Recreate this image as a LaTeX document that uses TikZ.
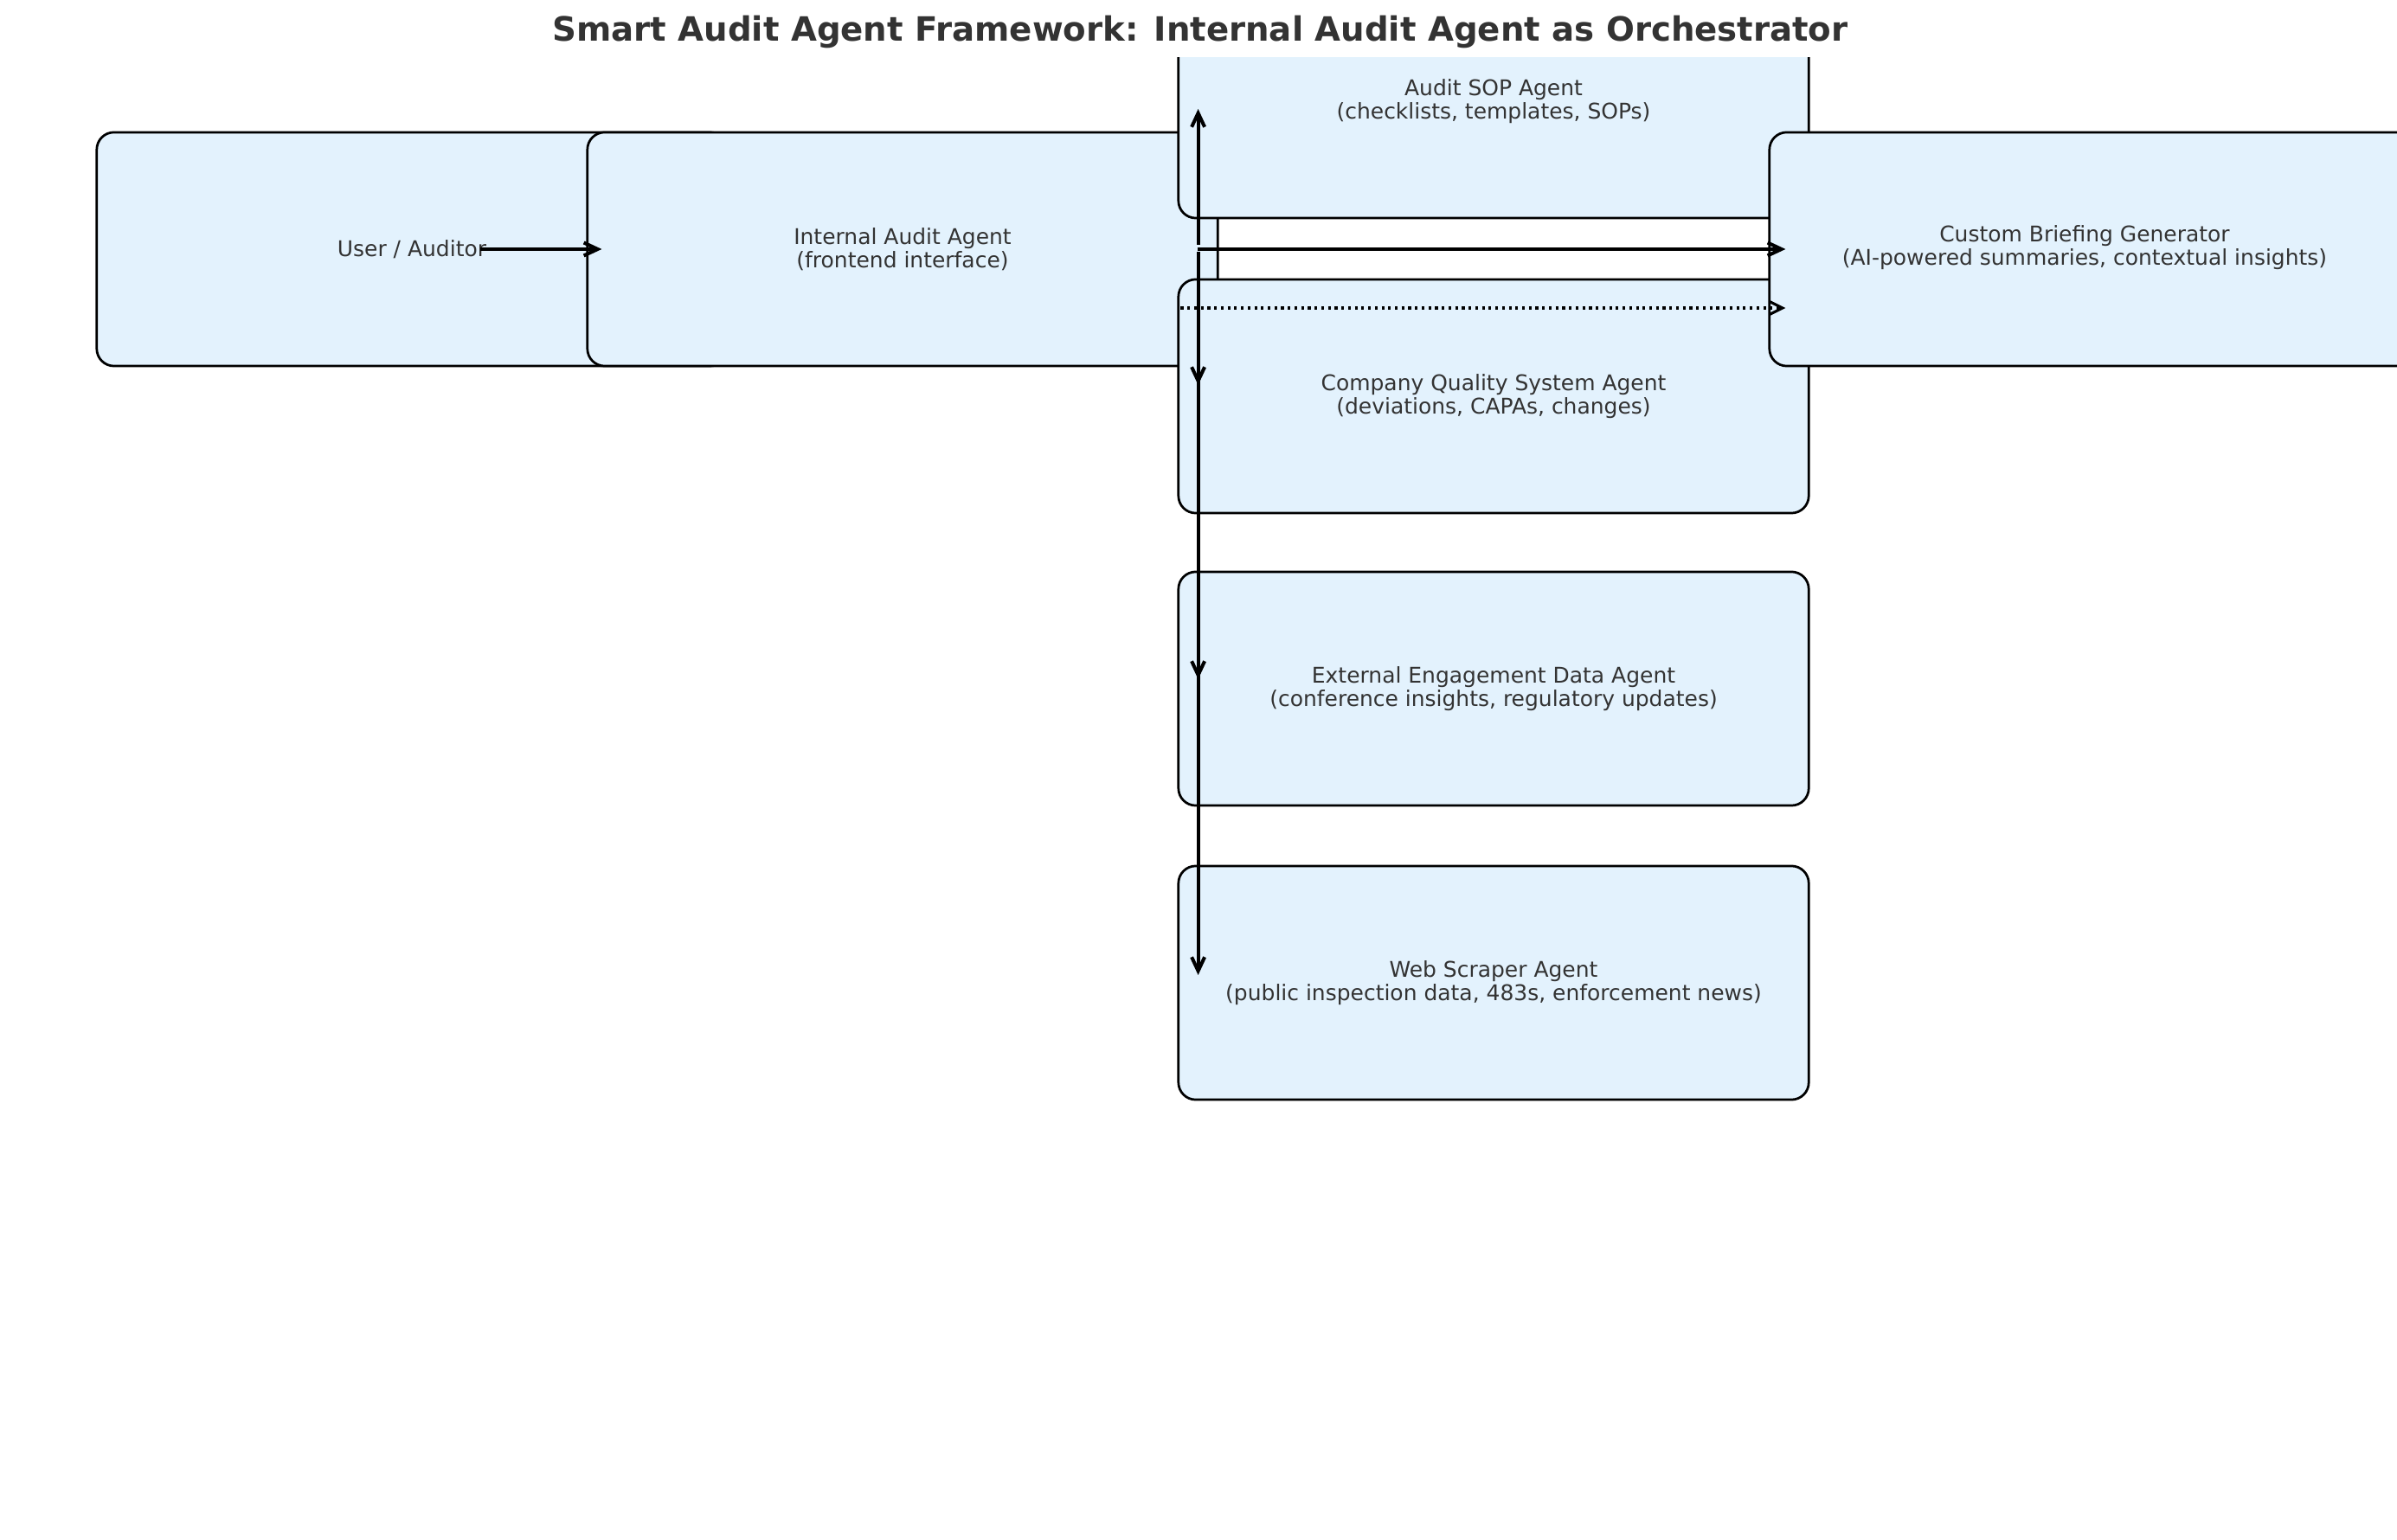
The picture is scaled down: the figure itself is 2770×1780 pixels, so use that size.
\documentclass[tikz,border=0pt]{standalone}
\usepackage{fontspec}
\setmainfont{DejaVu Sans}
\usetikzlibrary{arrows.meta,calc}
\definecolor{boxfill}{HTML}{E3F2FD}
\definecolor{txt}{HTML}{333333}
\begin{document}
\begin{tikzpicture}[x=0.01cm,y=-0.01cm,
  box/.style={draw=black, line width=0.78pt, fill=boxfill, rounded corners=0.2cm,
    minimum width=7.28cm, minimum height=2.70cm, inner sep=0pt, align=center,
    text=txt, font=\fontsize{7.1}{7.7}\selectfont},
  arr/.style={line width=1.15pt, -{Straight Barb[length=0.16cm,width=0.15cm]}},
  dotarr/.style={line width=0.9pt, dash pattern=on 0.9pt off 1.3pt,
    -{Straight Barb[length=0.15cm,width=0.15cm]}}]
\useasboundingbox (0,0) rectangle (2770,1780);
\node[font=\bfseries\fontsize{11}{13}\selectfont, text=txt] (title) at (1387,37)
  {Smart Audit Agent Framework: Internal Audit Agent as Orchestrator};
\begin{scope}
\clip (0,67) rectangle (2770,1780);
\node[box] (user) at (476,288) {User / Auditor};
\node[box] (internal) at (1043,288) {Internal Audit Agent\\(frontend interface)};
\node[box] (sop) at (1726,117) {Audit SOP Agent\\(checklists, templates, SOPs)};
\node[box] (cqs) at (1726,458) {Company Quality System Agent\\(deviations, CAPAs, changes)};
\node[box] (eed) at (1726,796) {External Engagement Data Agent\\(conference insights, regulatory updates)};
\node[box] (wsa) at (1726,1136) {Web Scraper Agent\\(public inspection data, 483s, enforcement news)};
\node[box, minimum width=7.78cm] (brief) at (2434,288)
  {\hspace*{-0.5cm}\begin{tabular}{@{}c@{}}Custom Briefing Generator\\(AI-powered summaries, contextual insights)\end{tabular}};

\coordinate (hub) at ($(internal.east)+(-24,0)$);
\coordinate (hubU) at ($(hub)+(0,-5)$);
\coordinate (hubD) at ($(hub)+(0,3)$);
\coordinate (userout) at ($(user.center)+(79,0)$);
\coordinate (intin) at ($(internal.west)+(18,0)$);
\coordinate (intout) at ($(internal.east)+(-25,0)$);
\coordinate (briefin) at ($(brief.west)+(20,0)$);
\coordinate (dotstart) at ($(cqs.west)+(4,-102)$);
\coordinate (dotend) at ($(brief.west)+(20,68)$);
\coordinate (tsop) at ($(hub |- sop.west)+(0,9)$);
\coordinate (tcqs) at ($(hub |- cqs.west)+(0,-13)$);
\coordinate (teed) at ($(hub |- eed.west)+(0,-11)$);
\coordinate (twsa) at ($(hub |- wsa.west)+(0,-9)$);

\draw[arr] (userout) -- (intin);
\draw[arr] (intout) -- (briefin);
\draw[dotarr] (dotstart) -- (dotend);
\draw[arr] (hubU) -- (tsop);
\draw[arr] (hubD) -- (tcqs);
\draw[arr] (hubD) -- (teed);
\draw[arr] (hubD) -- (twsa);
\end{scope}
\end{tikzpicture}
\end{document}
